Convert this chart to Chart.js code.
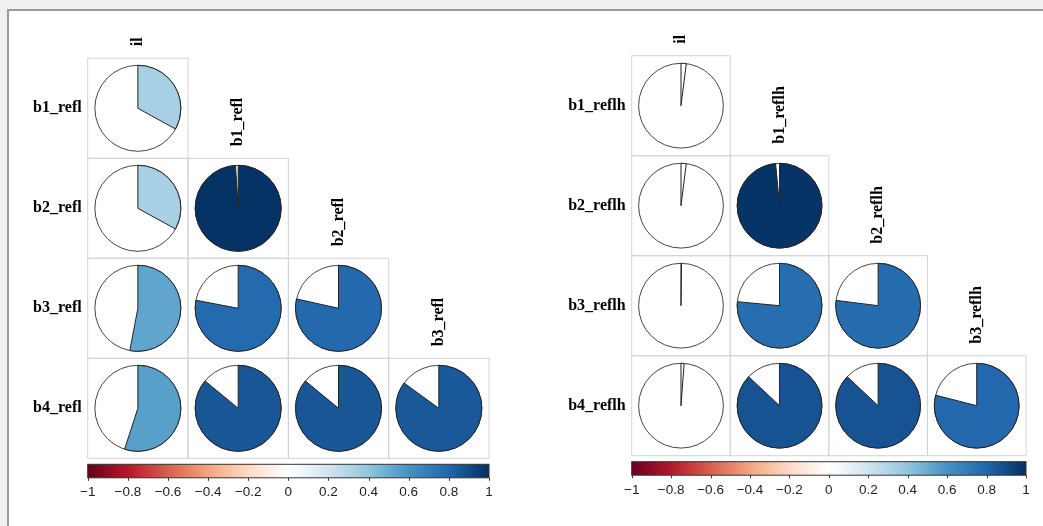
<!DOCTYPE html>
<html>
<head>
<meta charset="utf-8">
<script src="https://cdn.jsdelivr.net/npm/chart.js@4.4.1/dist/chart.umd.min.js"></script>
<style>
  html, body { margin: 0; padding: 0; background: #f0f0f0; width: 1043px; height: 526px; overflow: hidden; }
  #frame { position: absolute; left: 7px; top: 9px; width: 1100px; height: 600px; background: #fff;
           border-top: 2px solid #9a9a9a; border-left: 2px solid #9a9a9a; }
  canvas { position: absolute; top: 0; }
  #left { left: 0; }
  #right { left: 535px; }
</style>
</head>
<body>
<div id="frame"></div>
<canvas id="left" width="535" height="526"></canvas>
<canvas id="right" width="508" height="526"></canvas>
<script>
// left panel: refl
const leftRows = ['b1_refl', 'b2_refl', 'b3_refl', 'b4_refl'];
const leftCols = ['il', 'b1_refl', 'b2_refl', 'b3_refl'];
const leftCorr = [
  [0.33],
  [0.33, 0.99],
  [0.53, 0.78, 0.785],
  [0.55, 0.86, 0.86, 0.85]
];

// right panel: reflh
const rightRows = ['b1_reflh', 'b2_reflh', 'b3_reflh', 'b4_reflh'];
const rightCols = ['il', 'b1_reflh', 'b2_reflh', 'b3_reflh'];
const rightCorr = [
  [0.02],
  [0.02, 0.985],
  [0.002, 0.765, 0.77],
  [0.012, 0.87, 0.87, 0.79]
];

const colorbarTicks = [-1, -0.8, -0.6, -0.4, -0.2, 0, 0.2, 0.4, 0.6, 0.8, 1];
const rdbu = ['#67001F', '#B2182B', '#D6604D', '#F4A582', '#FDDBC7', '#FFFFFF',
              '#D1E5F0', '#92C5DE', '#4393C3', '#2166AC', '#053061'];

const LABEL_FONT = 'bold 16px "Liberation Serif", "Times New Roman", serif';

function hexToRgb(h) {
  return [1, 3, 5].map(i => parseInt(h.slice(i, i + 2), 16));
}

function corrColor(v) {
  const t = (v + 1) / 2 * (rdbu.length - 1);
  const i = Math.min(Math.floor(t), rdbu.length - 2);
  const f = t - i;
  const a = hexToRgb(rdbu[i]), b = hexToRgb(rdbu[i + 1]);
  const c = a.map((x, k) => Math.round(x + (b[k] - x) * f));
  return `rgb(${c[0]},${c[1]},${c[2]})`;
}

function fmtTick(v) {
  const r = Math.round(v * 10) / 10;
  return r < 0 ? '\u2212' + Math.abs(r) : String(r);
}

const corrPie = {
  id: 'corrPie',
  afterDatasetsDraw(chart) {
    const { ctx } = chart;
    const xs = chart.scales.x, ys = chart.scales.y;
    const ds = chart.data.datasets[0];
    const meta = chart.getDatasetMeta(0);
    const cw = Math.abs(xs.getPixelForValue(1) - xs.getPixelForValue(0));
    const ch = Math.abs(ys.getPixelForValue(1) - ys.getPixelForValue(0));
    const r = 0.43 * Math.min(cw, ch);
    ctx.save();
    // cell borders
    ctx.strokeStyle = '#d3d3d3';
    ctx.lineWidth = 1;
    meta.data.forEach(pt => {
      ctx.strokeRect(pt.x - cw / 2, pt.y - ch / 2, cw, ch);
    });
    // pies
    meta.data.forEach((pt, i) => {
      const v = ds.data[i].v;
      ctx.beginPath();
      ctx.arc(pt.x, pt.y, r, 0, Math.PI * 2);
      ctx.fillStyle = '#fff';
      ctx.fill();
      ctx.strokeStyle = '#444';
      ctx.stroke();
      const start = -Math.PI / 2;
      ctx.beginPath();
      ctx.moveTo(pt.x, pt.y);
      ctx.arc(pt.x, pt.y, r, start, start + v * Math.PI * 2, v < 0);
      ctx.closePath();
      ctx.fillStyle = corrColor(v);
      ctx.fill();
      ctx.strokeStyle = '#222';
      ctx.stroke();
    });
    // diagonal column labels
    ctx.font = LABEL_FONT;
    ctx.fillStyle = '#000';
    ctx.textAlign = 'left';
    ctx.textBaseline = 'middle';
    xs.getLabels().forEach((lab, j) => {
      const x = xs.getPixelForValue(j);
      const top = ys.getPixelForValue(j) - ch / 2;
      ctx.save();
      ctx.translate(x, top - 12);
      ctx.rotate(-Math.PI / 2);
      ctx.fillText(lab, 0, 0);
      ctx.restore();
    });
    // colour bar
    const cb = chart.scales.cbar;
    const x0 = cb.getPixelForValue(-1), x1 = cb.getPixelForValue(1);
    const y0 = chart.chartArea.bottom + 6, h = 13.5;
    const grad = ctx.createLinearGradient(x0, 0, x1, 0);
    rdbu.forEach((c, k) => grad.addColorStop(k / (rdbu.length - 1), c));
    ctx.fillStyle = grad;
    ctx.fillRect(x0, y0, x1 - x0, h);
    ctx.strokeStyle = '#333';
    ctx.strokeRect(x0, y0, x1 - x0, h);
    ctx.beginPath();
    colorbarTicks.forEach(t => {
      const px = Math.round(cb.getPixelForValue(t)) + 0.5;
      ctx.moveTo(px, y0 + h);
      ctx.lineTo(px, y0 + h + 3);
    });
    ctx.stroke();
    ctx.restore();
  }
};

function makePanel(id, rows, cols, corr, pad) {
  const points = [];
  corr.forEach((row, i) => row.forEach((v, j) => points.push({ x: cols[j], y: rows[i], v })));
  new Chart(document.getElementById(id), {
    type: 'scatter',
    data: {
      datasets: [{ data: points, pointRadius: 0, pointHoverRadius: 0, showLine: false }]
    },
    options: {
      responsive: false,
      animation: false,
      events: [],
      layout: { padding: pad },
      plugins: { legend: { display: false }, tooltip: { enabled: false } },
      scales: {
        x: { type: 'category', labels: cols, offset: true, display: false },
        y: {
          type: 'category', labels: rows, offset: true, position: 'left',
          grid: { display: false, drawTicks: false }, border: { display: false },
          afterFit: s => { s.width = 80; },
          ticks: { padding: 6, color: '#000', font: { family: '"Liberation Serif", "Times New Roman", serif', size: 16, weight: 'bold' } }
        },
        cbar: {
          type: 'linear', axis: 'x', position: 'bottom', min: -1, max: 1,
          grid: { display: false, drawTicks: false }, border: { display: false },
          afterBuildTicks: s => { s.ticks = colorbarTicks.map(v => ({ value: v })); },
          afterFit: s => { s.height = 40; s.paddingLeft = 0; s.paddingRight = 0; },
          ticks: {
            padding: 26, autoSkip: false, maxRotation: 0, color: '#222',
            font: { family: '"Liberation Sans", Arial, sans-serif', size: 13.5 },
            callback: v => fmtTick(v)
          }
        }
      }
    },
    plugins: [corrPie]
  });
}

makePanel('left', leftRows, leftCols, leftCorr, { top: 58.3, left: 7.7, right: 46, bottom: 27.7 });
makePanel('right', rightRows, rightCols, rightCorr, { top: 55.7, left: 16.7, right: 17, bottom: 30.3 });
</script>
</body>
</html>
